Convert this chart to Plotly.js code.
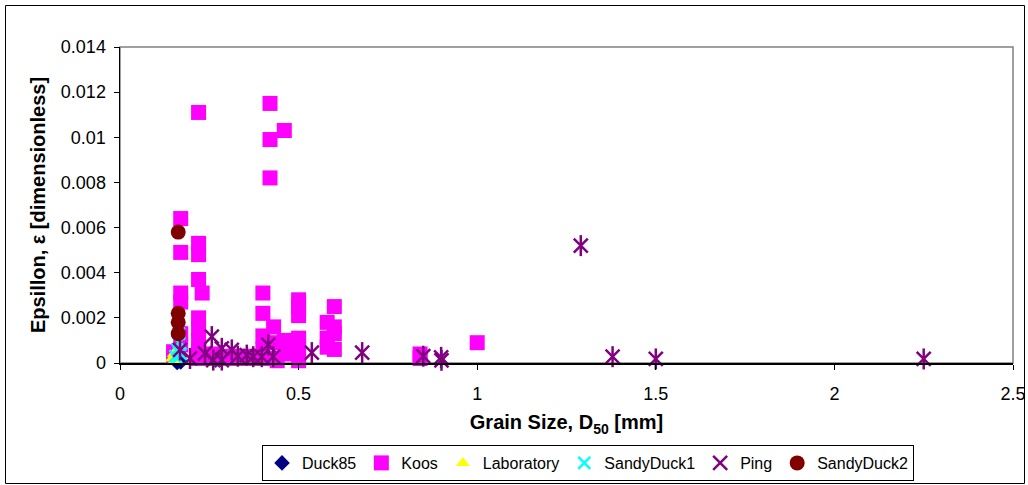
<!DOCTYPE html>
<html>
<head>
<meta charset="utf-8">
<script src="https://cdn.plot.ly/plotly-3.0.1.min.js"></script>
<style>
  html, body { margin: 0; padding: 0; background: #ffffff; }
  #chart { width: 1028px; height: 485px; }
</style>
</head>
<body>
<div id="chart"></div>
<script>
// Dissipation coefficient epsilon versus median grain size for each field / lab data set
const duck85X = [0.16, 0.165, 0.17];
const duck85Y = [0.00002, 0.0001, 0.00005];

const koosX = [0.15, 0.15,
  0.17, 0.17, 0.17, 0.17, 0.17, 0.17,
  0.22, 0.22, 0.22, 0.22, 0.22, 0.22, 0.22, 0.22, 0.22,
  0.23, 0.23,
  0.24, 0.26, 0.27, 0.29, 0.31, 0.33, 0.35, 0.37, 0.39, 0.41, 0.43, 0.44,
  0.4, 0.4, 0.4, 0.4,
  0.42, 0.42, 0.42,
  0.43, 0.43,
  0.46, 0.46, 0.46,
  0.5, 0.5, 0.5, 0.5, 0.5, 0.5, 0.5,
  0.58, 0.58, 0.58,
  0.6, 0.6, 0.6, 0.6,
  0.84, 0.84,
  1.0];
const koosY = [0.0005, 0.0003,
  0.0064, 0.0049, 0.0031, 0.0027, 0.0013, 0.0008,
  0.0111, 0.0053, 0.0048, 0.0037, 0.0020, 0.0015, 0.0010, 0.0005, 0.0002,
  0.0031, 0.0004,
  0.0003, 0.0002, 0.0004, 0.0002, 0.0003, 0.0002, 0.0003, 0.0002, 0.0003, 0.0002, 0.0002, 0.0001,
  0.0031, 0.0022, 0.0012, 0.0006,
  0.0115, 0.0099, 0.0082,
  0.0016, 0.0009,
  0.0103, 0.0010, 0.0004,
  0.0028, 0.0025, 0.0021, 0.0011, 0.0009, 0.0004, 0.0001,
  0.0018, 0.0011, 0.0007,
  0.0025, 0.0016, 0.0013, 0.0006,
  0.0004, 0.0002,
  0.0009];

const labX = [0.145, 0.15, 0.155, 0.16, 0.15];
const labY = [0.0002, 0.0004, 0.0001, 0.0006, 0.00005];

const sandyDuck1X = [0.155, 0.16, 0.165, 0.17, 0.165, 0.16];
const sandyDuck1Y = [0.0003, 0.0006, 0.0009, 0.0004, 0.0013, 0.0002];

const pingX = [0.168, 0.196, 0.238, 0.257, 0.261, 0.285, 0.285, 0.313, 0.33, 0.355, 0.373,
  0.397, 0.415, 0.429, 0.537, 0.678, 0.849, 0.899, 0.9, 1.29, 1.379, 1.5, 2.25];
const pingY = [0.00058, 0.0002, 0.00043, 0.00117, 0.00013, 0.00065, 0.00013, 0.00058, 0.0003, 0.00035, 0.00028,
  0.00028, 0.0008, 0.00028, 0.00046, 0.00046, 0.0003, 0.00025, 0.00012, 0.0052, 0.00028, 0.00018, 0.00018];

const sandyDuck2X = [0.163, 0.163, 0.163, 0.163];
const sandyDuck2Y = [0.0058, 0.0022, 0.0018, 0.0013];

const xTicks = [0, 0.5, 1, 1.5, 2, 2.5];
const yTicks = [0, 0.002, 0.004, 0.006, 0.008, 0.01, 0.012, 0.014];

const PING = '#800080';

const traces = [
  { name: 'Duck85', x: duck85X, y: duck85Y, type: 'scatter', mode: 'markers', cliponaxis: false,
    marker: { symbol: 'diamond', size: 12, color: '#000080' } },
  { name: 'Koos', x: koosX, y: koosY, type: 'scatter', mode: 'markers', cliponaxis: false,
    marker: { symbol: 'square', size: 15, color: '#ff00ff' } },
  { name: 'Laboratory', x: labX, y: labY, type: 'scatter', mode: 'markers', cliponaxis: false,
    marker: { symbol: 'triangle-up', size: 12, color: '#ffff00' } },
  { name: 'SandyDuck1', x: sandyDuck1X, y: sandyDuck1Y, type: 'scatter', mode: 'markers', cliponaxis: false,
    marker: { symbol: 'x-thin-open', size: 12, color: '#00ffff', line: { width: 2.5, color: '#00ffff' } } },
  { name: 'Ping', x: pingX, y: pingY, type: 'scatter', mode: 'markers', cliponaxis: false, legendgroup: 'ping',
    marker: { symbol: 'x-thin-open', size: 14, color: PING, line: { width: 2.5, color: PING } } },
  // vertical stroke completing the six-armed star of the Ping series
  { name: 'Ping', x: pingX, y: pingY, type: 'scatter', mode: 'markers', cliponaxis: false, legendgroup: 'ping',
    showlegend: false, hoverinfo: 'skip',
    marker: { symbol: 'line-ns-open', size: 15, color: PING, line: { width: 2.5, color: PING } } },
  { name: 'SandyDuck2', x: sandyDuck2X, y: sandyDuck2Y, type: 'scatter', mode: 'markers', cliponaxis: false,
    marker: { symbol: 'circle', size: 15, color: '#800000' } }
];

const L = 120, R = 15, T = 47, B = 122;
const W = 1028, H = 485;
const pw = W - L - R, ph = H - T - B;
const px = v => (v - L) / pw;          // pixel -> paper x
const py = v => (H - B - v) / ph;      // pixel -> paper y

const layout = {
  width: W, height: H,
  margin: { l: L, r: R, t: T, b: B, pad: 0, autoexpand: false },
  paper_bgcolor: '#ffffff',
  plot_bgcolor: '#ffffff',
  font: { family: 'Liberation Sans, Arial, sans-serif', size: 18, color: '#000000' },
  showlegend: true,
  legend: {
    orientation: 'h',
    x: px(588), xanchor: 'center',
    y: py(481), yanchor: 'bottom',
    bordercolor: '#000000', borderwidth: 1,
    bgcolor: '#ffffff',
    font: { size: 16 },
    itemwidth: 30,
    tracegroupgap: 0
  },
  xaxis: {
    range: [0, 2.5],
    tickvals: xTicks,
    ticktext: xTicks.map(String),
    ticks: 'outside', ticklen: 5, tickwidth: 1, tickcolor: '#000000',
    ticklabelstandoff: 9,
    showline: true, linecolor: '#000000', linewidth: 1.5,
    showgrid: false, zeroline: false,
    tickfont: { size: 18 },
    title: { text: '<b>Grain Size, D<sub>50</sub> [mm]</b>', font: { size: 20 }, standoff: 12 }
  },
  yaxis: {
    range: [0, 0.014],
    tickvals: yTicks,
    ticktext: yTicks.map(String),
    ticks: 'outside', ticklen: 5, tickwidth: 1, tickcolor: '#000000',
    ticklabelstandoff: 4,
    showline: true, linecolor: '#000000', linewidth: 1.5,
    showgrid: false, zeroline: false,
    tickfont: { size: 18 },
    title: { text: '<b>Epsillon, ε [dimensionless]</b>', font: { size: 20 }, standoff: 10 }
  },
  shapes: [
    // grey plot-area frame
    { type: 'rect', xref: 'paper', yref: 'paper', x0: 0, x1: 1, y0: 0, y1: 1,
      line: { color: '#808080', width: 1.5 }, layer: 'below' },
    // outer chart border
    { type: 'rect', xref: 'paper', yref: 'paper',
      x0: px(5.5), x1: px(1024.5), y0: py(483.5), y1: py(5.5),
      line: { color: '#000000', width: 1 }, layer: 'below' }
  ]
};

Plotly.newPlot('chart', traces, layout, { displayModeBar: false, staticPlot: true });
</script>
</body>
</html>
